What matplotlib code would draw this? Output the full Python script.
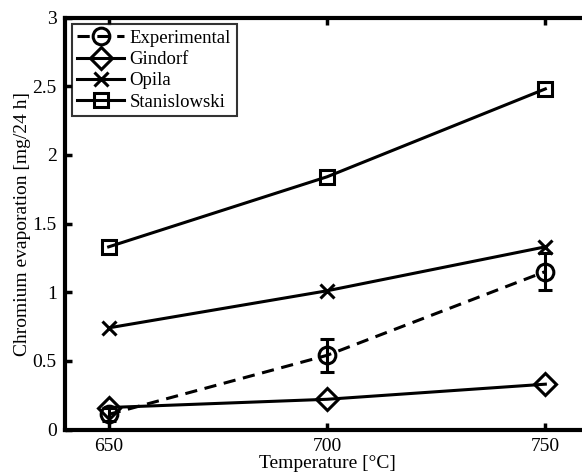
import matplotlib
matplotlib.use("Agg")
import matplotlib.pyplot as plt

# temperatures [°C]
temperature = [650, 700, 750]

# chromium evaporation [mg/24 h]
experimental = [0.11, 0.54, 1.15]
experimental_err = [0.05, 0.12, 0.135]
gindorf = [0.16, 0.22, 0.33]
opila = [0.74, 1.01, 1.33]
stanislowski = [1.33, 1.84, 2.48]

plt.rcParams['font.family'] = ['Liberation Serif', 'DejaVu Serif']
plt.rcParams['font.size'] = 14

fig = plt.figure(figsize=(5.82, 4.75), dpi=100)
# right edge of the axes runs past the figure border
ax = fig.add_axes([65 / 582, 1 - 429.5 / 475, 524 / 582, 412 / 475])

lw = 2.2
# error bars alone, the dashed line with circles is drawn on top
ax.errorbar(temperature, experimental, yerr=experimental_err, fmt='none',
            ecolor='k', capsize=5, capthick=lw, elinewidth=lw)
ax.plot(temperature, experimental, color='k', ls='--', dashes=(4, 2.5), lw=lw,
        marker='o', ms=12, mfc='none', mew=lw, label='Experimental')
ax.plot(temperature, gindorf, color='k', lw=lw, marker='D', ms=11, mfc='none',
        mew=lw, label='Gindorf')
ax.plot(temperature, opila, color='k', lw=lw, marker='x', ms=10, mew=lw,
        label='Opila')
ax.plot(temperature, stanislowski, color='k', lw=lw, marker='s', ms=10, mfc='none',
        mew=lw, label='Stanislowski')

ax.set_xlim(640, 760)
ax.set_ylim(0, 3)
ax.set_xticks(temperature)
ax.set_yticks([0, 0.5, 1, 1.5, 2, 2.5, 3])
ax.set_yticklabels(['0', '0.5', '1', '1.5', '2', '2.5', '3'])
ax.tick_params(direction='in', width=2.5, length=5, top=True, right=False, pad=6)
for s in ax.spines.values():
    s.set_linewidth(3)

ax.set_xlabel('Temperature [°C]', fontsize=14, labelpad=0)
ax.set_ylabel('Chromium evaporation [mg/24 h]', fontsize=14, labelpad=1)

leg = ax.legend(loc='upper left', fontsize=13.5, frameon=True, fancybox=False,
                edgecolor='k', borderpad=0.3, labelspacing=0.22,
                handlelength=2.5, handletextpad=0.3, borderaxespad=0.35)
leg.get_frame().set_linewidth(1.5)

fig.savefig('out.png', dpi=100)
